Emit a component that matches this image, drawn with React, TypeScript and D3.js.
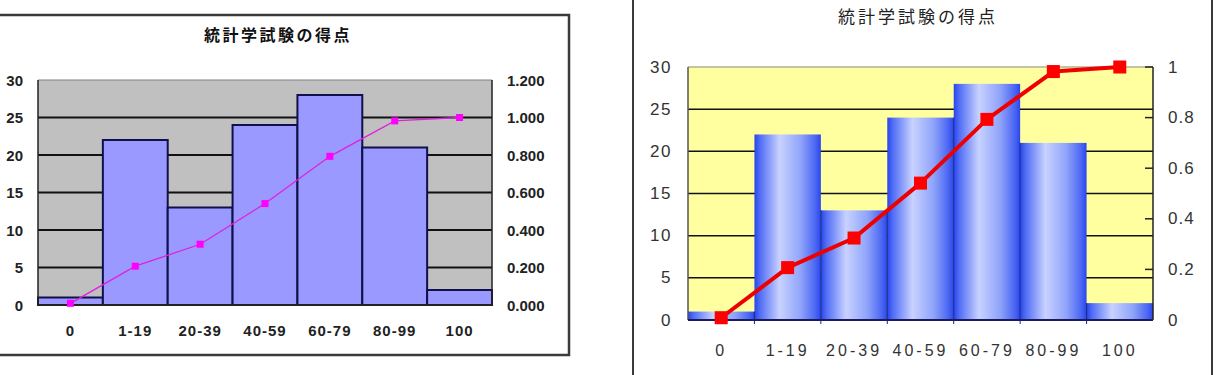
import React from "react";
import * as d3 from "d3";

const title = "統計学試験の得点";
const categories = ["0", "1-19", "20-39", "40-59", "60-79", "80-99", "100"];
const counts = [1, 22, 13, 24, 28, 21, 2];
const cumulative = [0.009, 0.207, 0.324, 0.541, 0.793, 0.982, 1.0];
const leftTicks = [0, 5, 10, 15, 20, 25, 30];
const rightTicksA = [0, 0.2, 0.4, 0.6, 0.8, 1.0, 1.2];
const rightTicksB = [0, 0.2, 0.4, 0.6, 0.8, 1];

const FONT = "'Liberation Sans', Arial, 'Noto Sans CJK JP', sans-serif";
const CJK = "'Noto Sans CJK JP', sans-serif";

function ChartA() {
  const X0 = 38, X1 = 492, Y0 = 80, Y1 = 305;
  const x = d3.scaleBand<string>().domain(categories).range([X0, X1]).padding(0);
  const yL = d3.scaleLinear().domain([0, 30]).range([Y1, Y0]);
  const yR = d3.scaleLinear().domain([0, 1.2]).range([Y1, Y0]);
  const line = d3
    .line<number>()
    .x((_, i) => x(categories[i])! + x.bandwidth() / 2)
    .y((d) => yR(d));
  const fmt = d3.format(".3f");
  return (
    <g>
      <rect x={-3} y={15} width={572} height={340} fill="#fff" stroke="#3a3a3a" strokeWidth={2.5} />
      <text x={278} y={34} textAnchor="middle" dominantBaseline="central" fontFamily={CJK} fontWeight="bold" fontSize={16} letterSpacing={2.5} fill="#111">
        {title}
      </text>
      <rect x={X0} y={Y0} width={X1 - X0} height={Y1 - Y0} fill="#C0C0C0" />
      <line x1={X0} x2={X1} y1={Y0} y2={Y0} stroke="#808080" strokeWidth={1} />
      {leftTicks.filter((t) => t > 0 && t < 30).map((t) => (
        <line key={t} x1={X0} x2={X1} y1={yL(t)} y2={yL(t)} stroke="#111" strokeWidth={2} />
      ))}
      {counts.map((c, i) => (
        <rect key={i} x={x(categories[i])!} y={yL(c)} width={x.bandwidth()} height={Y1 - yL(c)} fill="#9999FF" stroke="#10104a" strokeWidth={2} />
      ))}
      <line x1={X0} x2={X0} y1={Y0} y2={Y1} stroke="#222" strokeWidth={1.5} />
      <line x1={X1} x2={X1} y1={Y0} y2={Y1} stroke="#222" strokeWidth={1.5} />
      <line x1={X0} x2={X1} y1={Y1} y2={Y1} stroke="#222" strokeWidth={2} />
      <path d={line(cumulative)!} fill="none" stroke="#E020E0" strokeWidth={1.3} />
      {cumulative.map((v, i) => (
        <rect key={i} x={x(categories[i])! + x.bandwidth() / 2 - 3.5} y={yR(v) - 3.5} width={7} height={7} fill="#FF00FF" />
      ))}
      {leftTicks.map((t) => (
        <text key={t} x={23} y={yL(t)} textAnchor="end" dominantBaseline="central" fontFamily={FONT} fontWeight="bold" fontSize={15} fill="#222">
          {t}
        </text>
      ))}
      {rightTicksA.map((t) => (
        <text key={t} x={507} y={yR(t)} textAnchor="start" dominantBaseline="central" fontFamily={FONT} fontWeight="bold" fontSize={15} fill="#222">
          {fmt(t)}
        </text>
      ))}
      {categories.map((c) => (
        <text key={c} x={x(c)! + x.bandwidth() / 2} y={330} textAnchor="middle" dominantBaseline="central" fontFamily={FONT} fontWeight="bold" fontSize={15} letterSpacing={1} fill="#222">
          {c}
        </text>
      ))}
    </g>
  );
}

function ChartB() {
  const X0 = 688, X1 = 1153, Y0 = 67, Y1 = 320;
  const x = d3.scaleBand<string>().domain(categories).range([X0, X1]).padding(0);
  const yL = d3.scaleLinear().domain([0, 30]).range([Y1, Y0]);
  const yR = d3.scaleLinear().domain([0, 1]).range([Y1, Y0]);
  const line = d3
    .line<number>()
    .x((_, i) => x(categories[i])! + x.bandwidth() / 2)
    .y((d) => yR(d));
  const bounds = categories.slice(1).map((c, i) => ({
    x: x(c)!,
    top: yL(Math.min(counts[i], counts[i + 1])),
  }));
  return (
    <g>
      <defs>
        <linearGradient id="barGrad" x1="0" x2="1" y1="0" y2="0">
          <stop offset="0" stopColor="#2844ee" />
          <stop offset="0.08" stopColor="#4f6cf5" />
          <stop offset="0.38" stopColor="#c8d2ff" />
          <stop offset="0.7" stopColor="#8fa3fa" />
          <stop offset="0.92" stopColor="#4a66f3" />
          <stop offset="1" stopColor="#2a46ec" />
        </linearGradient>
      </defs>
      <rect x={633} y={-5} width={579} height={390} fill="#fff" stroke="#3a3a3a" strokeWidth={2} />
      <text x={918} y={15} textAnchor="middle" dominantBaseline="central" fontFamily={CJK} fontSize={17} letterSpacing={3} fill="#222">
        {title}
      </text>
      <rect x={X0} y={Y0} width={X1 - X0} height={Y1 - Y0} fill="#FFFFA0" />
      <line x1={X0} x2={X1} y1={Y0} y2={Y0} stroke="#b0b090" strokeWidth={1.5} />
      {leftTicks.filter((t) => t > 0 && t < 30).map((t) => (
        <line key={t} x1={X0} x2={X1} y1={yL(t)} y2={yL(t)} stroke="#111" strokeWidth={1.5} />
      ))}
      {counts.map((c, i) => (
        <rect key={i} x={x(categories[i])!} y={yL(c)} width={x.bandwidth()} height={Y1 - yL(c)} fill="url(#barGrad)" />
      ))}
      {bounds.map((b, i) => (
        <line key={i} x1={b.x} x2={b.x} y1={b.top} y2={Y1 + 4} stroke="#1a2a7a" strokeWidth={1} />
      ))}
      <line x1={X0} x2={X0} y1={Y0} y2={Y1} stroke="#555" strokeWidth={1.5} />
      <line x1={X1} x2={X1} y1={Y0} y2={Y1} stroke="#222" strokeWidth={1.5} />
      {rightTicksB.map((t) => (
        <line key={t} x1={X1 - 8} x2={X1} y1={yR(t)} y2={yR(t)} stroke="#222" strokeWidth={1.5} />
      ))}
      <line x1={X0} x2={X1} y1={Y1} y2={Y1} stroke="#1a1a60" strokeWidth={2} />
      <path d={line(cumulative)!} fill="none" stroke="#EE0000" strokeWidth={4} strokeLinejoin="round" />
      {cumulative.map((v, i) => (
        <rect key={i} x={x(categories[i])! + x.bandwidth() / 2 - 6.5} y={yR(v) - 6.5} width={13} height={13} fill="#FF0000" />
      ))}
      {leftTicks.map((t) => (
        <text key={t} x={672} y={yL(t)} textAnchor="end" dominantBaseline="central" fontFamily={FONT} fontSize={17} letterSpacing={1.5} fill="#333">
          {t}
        </text>
      ))}
      {rightTicksB.map((t) => (
        <text key={t} x={1168} y={yR(t)} textAnchor="start" dominantBaseline="central" fontFamily={FONT} fontSize={17} letterSpacing={1} fill="#333">
          {String(t)}
        </text>
      ))}
      {categories.map((c) => (
        <text key={c} x={x(c)! + x.bandwidth() / 2} y={350} textAnchor="middle" dominantBaseline="central" fontFamily={FONT} fontSize={16} letterSpacing={3} fill="#333">
          {c}
        </text>
      ))}
    </g>
  );
}

export default function App() {
  return (
    <svg width={1225} height={375} style={{ position: "absolute", left: 0, top: 0, background: "#fff" }}>
      <rect x={0} y={0} width={1225} height={375} fill="#fff" />
      <ChartA />
      <ChartB />
    </svg>
  );
}
